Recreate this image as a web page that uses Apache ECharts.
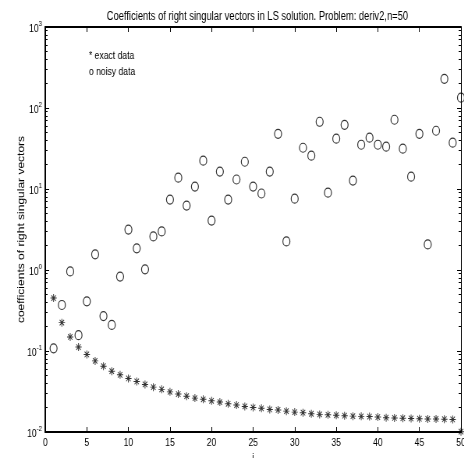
<!DOCTYPE html>
<html>
<head>
<meta charset="utf-8">
<script src="https://cdn.jsdelivr.net/npm/echarts@6/dist/echarts.min.js"></script>
<style>
  html, body { margin: 0; padding: 0; background: #fff; overflow: hidden; }
  /* the figure is laid out wide and squeezed horizontally, like the printed plot */
  #chart { width: 595px; height: 458px; transform: scaleX(0.78); transform-origin: 0 0; }
</style>
</head>
<body>
<div id="chart"></div>
<script>
// singular vector index i = 1..50
const indices = [1,2,3,4,5,6,7,8,9,10,11,12,13,14,15,16,17,18,19,20,
                 21,22,23,24,25,26,27,28,29,30,31,32,33,34,35,36,37,38,39,40,
                 41,42,43,44,45,46,47,48,49,50];

// coefficients for exact right-hand side
const exactCoefs = [0.45,0.224,0.149,0.112,0.0906,0.0755,0.065,0.0564,0.0508,0.0458,
                    0.0421,0.0387,0.0358,0.0336,0.0313,0.0294,0.0277,0.0262,0.0253,0.0243,
                    0.0234,0.0223,0.0215,0.0207,0.0201,0.0196,0.0190,0.0187,0.0181,0.0176,
                    0.0173,0.0168,0.0165,0.0163,0.0161,0.0159,0.0157,0.0156,0.0155,0.0153,
                    0.0150,0.0149,0.0148,0.0147,0.0146,0.0145,0.0145,0.0144,0.0143,0.0101];

// coefficients for noisy right-hand side
const noisyCoefs = [0.108,0.37,0.96,0.157,0.41,1.56,0.27,0.21,0.83,3.16,
                    1.85,1.02,2.6,2.99,7.4,13.8,6.25,10.7,22.4,4.08,
                    16.4,7.4,13.1,21.7,10.7,8.8,16.4,48,2.25,7.6,
                    32.3,25.8,67.6,9.0,41.8,62,12.7,35.2,43,35.2,
                    33.3,71.6,31.5,14.2,48,2.07,52.4,229,37.3,134];

// axis ticks
const xTickValues = [0,5,10,15,20,25,30,35,40,45,50];
const yDecades = [0.01,0.1,1,10,100,1000];
const yMinorTicks = [];
for (let d = 0; d < yDecades.length - 1; d++) {
  for (let k = 2; k <= 9; k++) yMinorTicks.push(+(k * yDecades[d]).toPrecision(3));
}

const FONT = 'Liberation Sans, Arial, Helvetica, sans-serif';
const ASTERISK = 'path://M4.4 0L5.6 0L5.6 10L4.4 10Z M0 4.4L10 4.4L10 5.6L0 5.6Z ' +
  'M1.92 1.08L8.92 8.08L8.08 8.92L1.08 1.92Z M8.92 1.92L1.92 8.92L1.08 8.08L8.08 1.08Z';

const chart = echarts.init(document.getElementById('chart'), null, { renderer: 'canvas' });

function yAxisDef(position, major, withLabels) {
  return {
    type: 'log', logBase: 10, min: 0.01, max: 1000, position: position,
    name: withLabels ? 'coefficients of right singular vectors' : '',
    nameLocation: 'middle', nameGap: 24, nameRotate: 90, nameMoveOverlap: false,
    nameTextStyle: { fontFamily: FONT, fontSize: 12, color: '#000' },
    axisLine: { show: major, lineStyle: { color: '#000', width: position === 'left' ? 2 : 1 } },
    axisTick: { show: true, inside: true, length: major ? 5 : 3,
                customValues: major ? yDecades : yMinorTicks,
                lineStyle: { color: '#000', width: 1 } },
    axisLabel: {
      show: withLabels, margin: 4, customValues: yDecades,
      formatter: function (v) { return '{b|10}{e|' + Math.round(Math.log10(v)) + '}'; },
      rich: {
        b: { fontFamily: FONT, fontSize: 11, color: '#000', verticalAlign: 'bottom' },
        e: { fontFamily: FONT, fontSize: 8, color: '#000', verticalAlign: 'bottom', padding: [0, 0, 6, 0] }
      }
    },
    splitLine: { show: false }, minorTick: { show: false }
  };
}

chart.setOption({
  animation: false,
  backgroundColor: '#fff',
  title: {
    text: 'Coefficients of right singular vectors in LS solution. Problem: deriv2,n=50',
    left: 325, top: 6, textAlign: 'center',
    textStyle: { fontFamily: FONT, fontSize: 12, fontWeight: 'normal', color: '#000' }
  },
  grid: { left: 58, right: 4, top: 27, bottom: 26, containLabel: false, outerBoundsMode: 'none' },
  xAxis: [
    {
      type: 'value', min: 0, max: 50, interval: 5, position: 'bottom',
      name: 'i', nameLocation: 'middle', nameGap: 20, nameMoveOverlap: false,
      nameTextStyle: { fontFamily: FONT, fontSize: 11, color: '#000' },
      axisLine: { show: true, lineStyle: { color: '#000', width: 2 } },
      axisTick: { show: true, inside: true, length: 5, lineStyle: { color: '#000' } },
      axisLabel: { fontFamily: FONT, fontSize: 11, color: '#000', margin: 5, customValues: xTickValues },
      splitLine: { show: false }
    },
    {
      type: 'value', min: 0, max: 50, interval: 5, position: 'top',
      axisLine: { show: true, lineStyle: { color: '#000', width: 2 } },
      axisTick: { show: true, inside: true, length: 5, lineStyle: { color: '#000' } },
      axisLabel: { show: false },
      splitLine: { show: false }
    }
  ],
  yAxis: [
    yAxisDef('left', true, true),
    yAxisDef('left', false, false),
    yAxisDef('right', true, false),
    yAxisDef('right', false, false)
  ],
  graphic: [
    { type: 'text', left: 114, top: 50,
      style: { text: '* exact data', fontFamily: FONT, fontSize: 11, fill: '#000' } },
    { type: 'text', left: 114, top: 66,
      style: { text: 'o noisy data', fontFamily: FONT, fontSize: 11, fill: '#000' } }
  ],
  series: [
    {
      name: 'exact data', type: 'scatter', xAxisIndex: 0, yAxisIndex: 0,
      symbol: ASTERISK, symbolSize: 8,
      itemStyle: { color: '#000' },
      data: indices.map((i, k) => [i, exactCoefs[k]])
    },
    {
      name: 'noisy data', type: 'scatter', xAxisIndex: 0, yAxisIndex: 0,
      symbol: 'circle', symbolSize: 9,
      itemStyle: { color: 'rgba(255,255,255,0)', borderColor: '#000', borderWidth: 1.2 },
      data: indices.map((i, k) => [i, noisyCoefs[k]])
    }
  ]
});
</script>
</body>
</html>
